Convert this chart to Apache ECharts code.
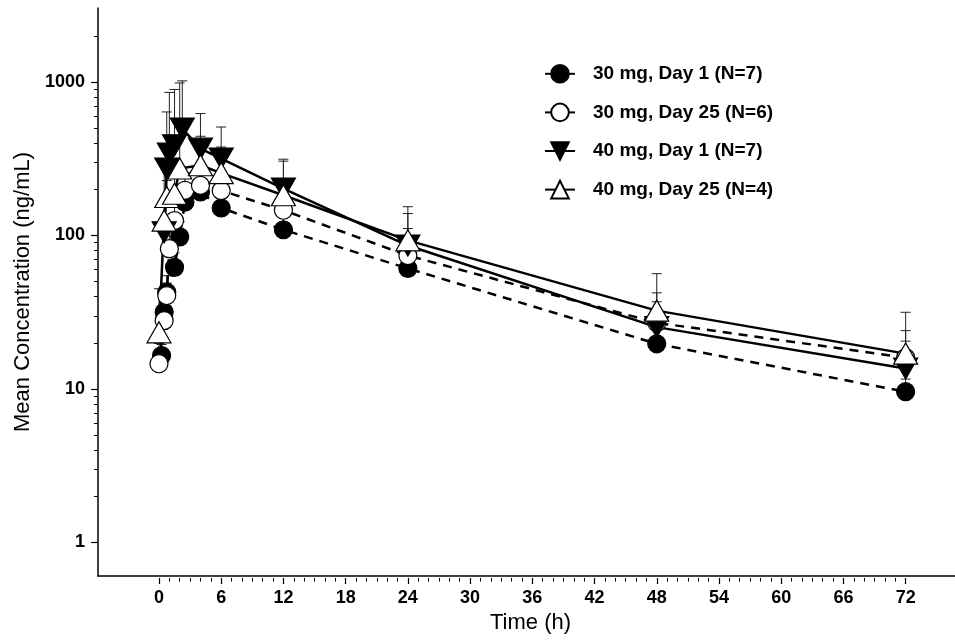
<!DOCTYPE html>
<html>
<head>
<meta charset="utf-8">
<script src="https://cdn.jsdelivr.net/npm/echarts@6/dist/echarts.min.js"></script>
<style>
  html, body { margin: 0; padding: 0; background: #fff; }
  #chart { width: 955px; height: 640px; }
</style>
</head>
<body>
<div id="chart"></div>
<script>
  // 30 mg, Day 1 (filled circles, dashed)
  const t30d1 = [0.25, 0.5, 0.75, 1.5, 2, 2.5, 4, 6, 12, 24, 48, 72];
  const c30d1 = [16.5, 31.7, 42.7, 62, 98, 165, 192, 151, 109, 61, 19.7, 9.6];
  const sd30d1 = [3, 12, 12, 15, 25, 40, 40, 35, 25, 15, 5, 2];

  // 30 mg, Day 25 (open circles, dashed)
  const t30d25 = [0, 0.5, 0.75, 1, 1.5, 2.5, 4, 6, 12, 24, 48, 72];
  const c30d25 = [14.6, 27.9, 40.6, 82, 125, 197, 212, 196, 146, 74, 27, 16];
  const sd30d25 = [5.2, 10, 8.4, 30, 40, 60, 50, 45, 35, 37, 10, 4.5];

  // 40 mg, Day 1 (filled down-triangles, solid)
  const t40d1 = [0.5, 0.75, 1, 1.5, 2.25, 4, 6, 12, 24, 48, 72];
  const c40d1 = [105, 273, 342, 387, 497, 368, 317, 202, 86, 25.3, 13.6];
  const sd40d1 = [190, 365, 513, 507, 520, 255, 192, 112, 53, 17, 10.4];

  // 40 mg, Day 25 (open triangles, solid)
  const t40d25 = [0, 0.5, 0.75, 1.5, 2, 4, 6, 12, 24, 48, 72];
  const c40d25 = [23.4, 125, 178, 187, 273, 287, 255, 183, 93, 32.4, 17];
  const sd40d25 = [21.6, 40, 50, 60, 713, 156, 122, 122, 61, 24, 14.6];

  const seriesNames = ['30 mg, Day 1 (N=7)', '30 mg, Day 25 (N=6)', '40 mg, Day 1 (N=7)', '40 mg, Day 25 (N=4)'];
  const xMajor = [0, 6, 12, 18, 24, 30, 36, 42, 48, 54, 60, 66, 72];
  const yMajor = [1, 10, 100, 1000];

  const xMinor = [];
  for (let i = 0; i <= 72; i++) xMinor.push(i);
  const yMinor = [];
  [1, 10, 100, 1000].forEach(function (d) {
    for (let k = 2; k <= 9; k++) if (d * k < 3000) yMinor.push(d * k);
  });

  const font = 'Liberation Sans, Arial, sans-serif';
  const xMin = -5.88, xMax = 76.76;
  const yMin = 0.605, yMax = 3034;

  function pairs(t, c, sd) {
    return t.map(function (x, i) { return sd ? [x, c[i], sd[i]] : [x, c[i]]; });
  }

  // upper SD bars with a small cap, drawn behind the markers
  function errorBars(t, c, sd) {
    return {
      type: 'custom',
      z: 1,
      silent: true,
      data: pairs(t, c, sd),
      renderItem: function (params, api) {
        const x = api.value(0), y = api.value(1), s = api.value(2);
        const p0 = api.coord([x, y]);
        const p1 = api.coord([x, y + s]);
        const style = { stroke: '#222', lineWidth: 1 };
        return {
          type: 'group',
          children: [
            { type: 'line', shape: { x1: p0[0], y1: p0[1], x2: p1[0], y2: p1[1] }, style: style },
            { type: 'line', shape: { x1: p1[0] - 5, y1: p1[1], x2: p1[0] + 5, y2: p1[1] }, style: style }
          ]
        };
      }
    };
  }

  function lineSeries(name, t, c, symbol, size, rotate, filled, dashed) {
    return {
      name: name,
      type: 'line',
      z: 3,
      data: pairs(t, c),
      symbol: symbol,
      symbolSize: size,
      symbolRotate: rotate,
      showAllSymbol: true,
      itemStyle: {
        color: filled ? '#000' : '#fff',
        borderColor: '#000',
        borderWidth: 1.2,
        opacity: 1
      },
      lineStyle: { color: '#000', width: 2.5, type: dashed ? [9, 7] : 'solid' }
    };
  }

  const chart = echarts.init(document.getElementById('chart'));
  chart.setOption({
    animation: false,
    backgroundColor: '#fff',
    grid: { left: 98, right: 0, top: 8, bottom: 64, outerBoundsMode: 'none', containLabel: false },
    legend: {
      data: seriesNames,
      orient: 'vertical',
      left: 539,
      top: 59,
      itemWidth: 30,
      itemHeight: 22,
      itemGap: 19,
      lineStyle: { type: 'solid', width: 2 },
      textStyle: { fontFamily: font, fontSize: 19, fontWeight: 'bold', color: '#000', padding: [0, 0, 0, 13] }
    },
    xAxis: [
      {
        type: 'value', min: xMin, max: xMax, position: 'bottom',
        axisLine: { onZero: false, lineStyle: { color: '#000', width: 1.5 } },
        axisTick: { show: false },
        axisLabel: { show: false },
        splitLine: { show: false },
        name: 'Time (h)',
        nameLocation: 'middle',
        nameGap: 36,
        nameTextStyle: { fontFamily: font, fontSize: 22, color: '#000', padding: [0, 0, 0, 8] }
      },
      {
        type: 'value', min: xMin, max: xMax, position: 'bottom', offset: 2,
        axisLine: { show: false, onZero: false },
        axisTick: { customValues: xMajor, length: 6, lineStyle: { color: '#000', width: 1.2 } },
        axisLabel: { customValues: xMajor, margin: 11, fontFamily: font, fontSize: 18, fontWeight: 'bold', color: '#000' },
        splitLine: { show: false }
      },
      {
        type: 'value', min: xMin, max: xMax, position: 'bottom', offset: 2,
        axisLine: { show: false, onZero: false },
        axisTick: { customValues: xMinor, length: 3.5, lineStyle: { color: '#000', width: 1 } },
        axisLabel: { show: false },
        splitLine: { show: false }
      }
    ],
    yAxis: [
      {
        type: 'log', logBase: 10, min: yMin, max: yMax, position: 'left',
        axisLine: { show: true, onZero: false, lineStyle: { color: '#000', width: 1.5 } },
        axisTick: { customValues: yMajor, length: 7, lineStyle: { color: '#000', width: 1.2 } },
        axisLabel: {
          customValues: yMajor, margin: 13, fontFamily: font, fontSize: 18, fontWeight: 'bold', color: '#000',
          formatter: function (v) { return String(Math.round(v)); }
        },
        splitLine: { show: false },
        name: 'Mean Concentration (ng/mL)',
        nameLocation: 'middle',
        nameGap: 62,
        nameTextStyle: { fontFamily: font, fontSize: 22, color: '#000' }
      },
      {
        type: 'log', logBase: 10, min: yMin, max: yMax, position: 'left',
        axisLine: { show: false, onZero: false },
        axisTick: { customValues: yMinor, length: 4, lineStyle: { color: '#000', width: 1 } },
        axisLabel: { show: false },
        splitLine: { show: false }
      }
    ],
    series: [
      errorBars(t30d1, c30d1, sd30d1),
      errorBars(t30d25, c30d25, sd30d25),
      errorBars(t40d1, c40d1, sd40d1),
      errorBars(t40d25, c40d25, sd40d25),
      lineSeries(seriesNames[0], t30d1, c30d1, 'circle', 18, 0, true, true),
      lineSeries(seriesNames[1], t30d25, c30d25, 'circle', 18, 0, false, true),
      lineSeries(seriesNames[2], t40d1, c40d1, 'triangle', [24, 21], 180, true, false),
      lineSeries(seriesNames[3], t40d25, c40d25, 'triangle', [24, 21], 0, false, false)
    ]
  });
</script>
</body>
</html>
